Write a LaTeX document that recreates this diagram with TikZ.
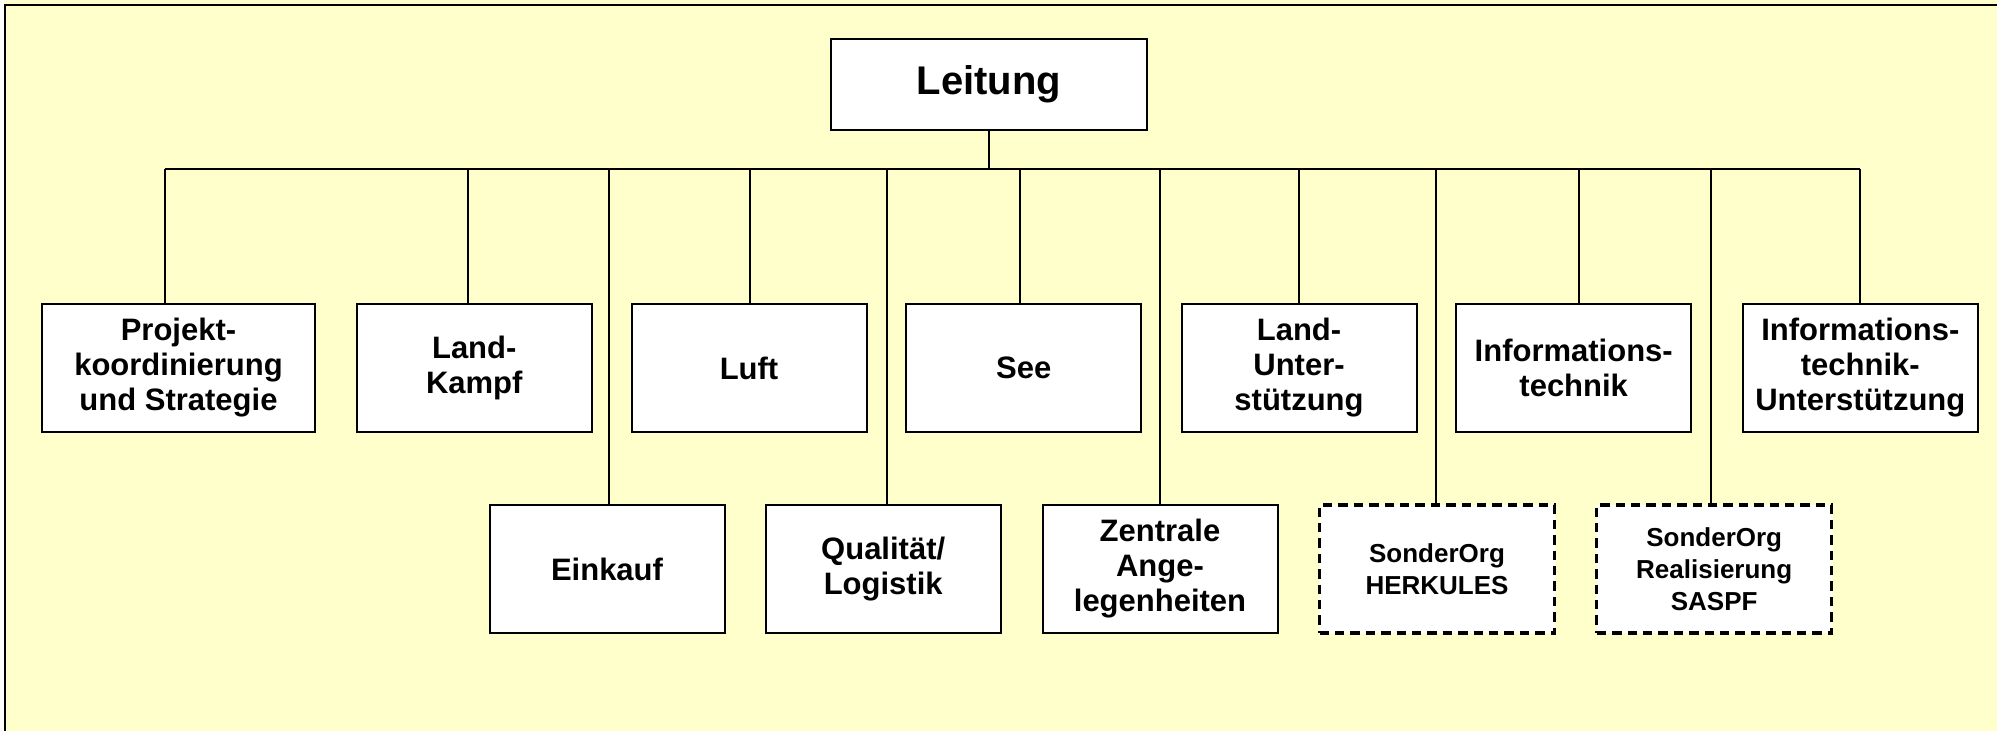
\documentclass[tikz,border=0pt]{standalone}
\usepackage{fontspec}
\setmainfont{Liberation Sans}
\definecolor{bgyellow}{HTML}{FFFFCC}
\begin{document}
\begin{tikzpicture}[x=0.5pt,y=-0.5pt,
  unit/.style={draw=black, fill=white, line width=1pt, align=center, inner sep=0pt,
    font=\bfseries\fontsize{15.5}{17.5}\selectfont, minimum height=64pt, minimum width=117.5pt},
  topunit/.style={unit, font=\bfseries\fontsize{20}{23}\selectfont, minimum width=158pt, minimum height=45.5pt},
  specialunit/.style={unit, dash pattern=on 4.7pt off 3pt, line width=1.6pt,
    font=\bfseries\fontsize{13}{16}\selectfont},
  link/.style={draw=black, line width=0.9pt}]
\useasboundingbox (0,0) rectangle (1997,731);
\fill[white] (0,0) rectangle (1997,731);
\fill[bgyellow] (4,0) rectangle (1997,731);
\draw[line width=1.1pt] (5,731) -- (5,5) -- (1997,5);

% top
\node[topunit] (lei) at (989,84.5) {Leitung};

% level 1
\node[unit, minimum width=136.5pt] (proj) at (178.5,368) {Projekt-\\koordinierung\\und Strategie};
\node[unit] (lk)   at (474.25,368) {Land-\\Kampf};
\node[unit] (luft) at (749,368) {Luft};
\node[unit] (see)  at (1023.75,368) {See};
\node[unit] (lu)   at (1299,368) {Land-\\Unter-\\stützung};
\node[unit] (it)   at (1573.7,368) {Informations-\\technik};
\node[unit] (itu)  at (1860.3,368) {Informations-\\technik-\\Unterstützung};

% level 2
\node[unit] (ein)  at (607,569) {Einkauf};
\node[unit] (qual) at (883.2,569) {Qualität/\\Logistik};
\node[unit] (zen)  at (1160,569) {Zentrale\\Ange-\\legenheiten};
\node[specialunit] (her) at (1437,569) {SonderOrg\\HERKULES};
\node[specialunit] (sas) at (1714.2,569) {SonderOrg\\Realisierung\\SASPF};

% bus drop points
\coordinate (d1) at (165,169);
\coordinate (d2) at (468,169);
\coordinate (d3) at (609,169);
\coordinate (d4) at (750,169);
\coordinate (d5) at (887,169);
\coordinate (d6) at (1020,169);
\coordinate (d7) at (1160,169);
\coordinate (d8) at (1299,169);
\coordinate (d9) at (1436,169);
\coordinate (d10) at (1579,169);
\coordinate (d11) at (1711,169);
\coordinate (d12) at (1860,169);

\draw[link] (d1) -- (d12);
\draw[link] (lei.south) -- (lei.south |- d1);
\draw[link] (d1) -- (d1 |- proj.north);
\draw[link] (d2) -- (d2 |- lk.north);
\draw[link] (d3) -- (d3 |- ein.north);
\draw[link] (d4) -- (d4 |- luft.north);
\draw[link] (d5) -- (d5 |- qual.north);
\draw[link] (d6) -- (d6 |- see.north);
\draw[link] (d7) -- (d7 |- zen.north);
\draw[link] (d8) -- (d8 |- lu.north);
\draw[link] (d9) -- (d9 |- her.north);
\draw[link] (d10) -- (d10 |- it.north);
\draw[link] (d11) -- (d11 |- sas.north);
\draw[link] (d12) -- (d12 |- itu.north);
\end{tikzpicture}
\end{document}
